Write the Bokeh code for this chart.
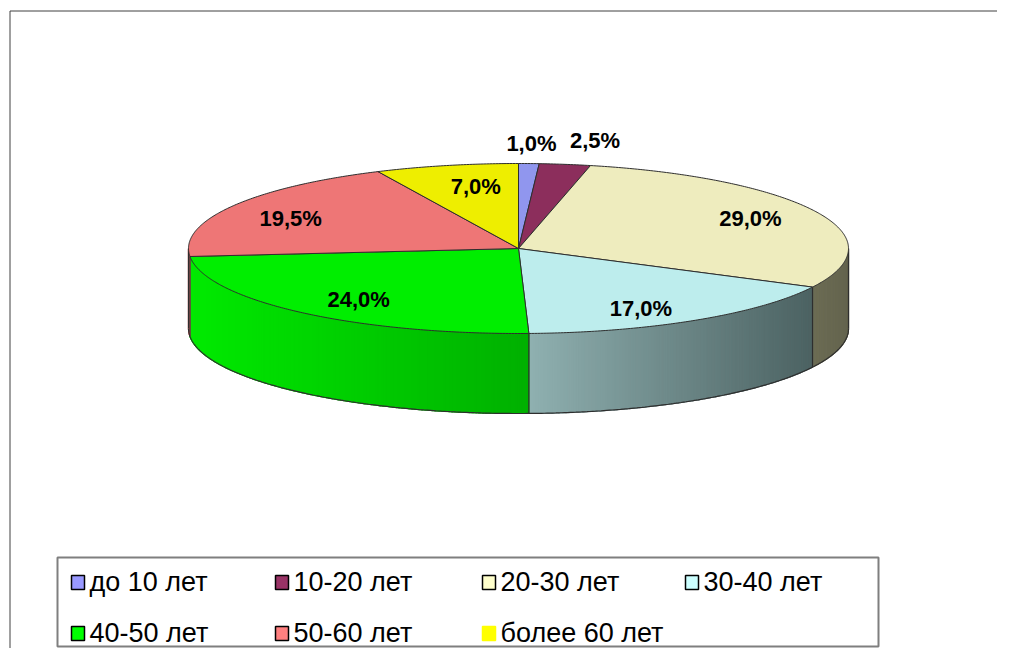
import numpy as np
from bokeh.plotting import figure
from bokeh.models import Range1d
from bokeh.core.properties import value
from bokeh.embed import file_html
from bokeh.resources import INLINE

# ---------------- data ----------------
categories = ["до 10 лет", "10-20 лет", "20-30 лет", "30-40 лет",
              "40-50 лет", "50-60 лет", "более 60 лет"]
shares = [1.0, 2.5, 29.0, 17.0, 24.0, 19.5, 7.0]
labels = [f"{v:.1f}%".replace(".", ",") for v in shares]

# ---------------- styles ----------------
legend_colors = ["#9999FF", "#993366", "#FFFFCC", "#CCFFFF", "#00FF00", "#FF8080", "#FFFF00"]
top_colors = ["#9096ee", "#8c2e5c", "#eeecbe", "#bdeded", "#00ee00", "#ee7676", "#eeee00"]
side_left = [(130, 135, 210), (120, 40, 80), (108, 108, 84), (143, 176, 176),
             (0, 234, 0), (232, 112, 112), (215, 215, 0)]
side_right = [(120, 125, 200), (110, 35, 75), (100, 100, 78), (76, 98, 98),
              (0, 176, 0), (225, 105, 105), (205, 205, 0)]
label_radius = [1.25, 1.28, 0.76, 0.76, 0.76, 0.76, 0.76]
label_dx = [0, 17, 5, -12, 6, -10, 12]
label_dy = [1, 0, -2, 5, 3, 2, 1]

cx, cy, rx, ry, depth = 518.0, 248.0, 330.0, 85.0, 80.0
edge = "#2e2e2e"
W, H = 997, 648


def X(t):
    return cx + rx * np.sin(np.radians(t))


def Y(t):
    return cy - ry * np.cos(np.radians(t))


p = figure(width=W, height=H, x_range=Range1d(0, W), y_range=Range1d(H, 0),
           output_backend="svg", toolbar_location=None, min_border=0)
p.axis.visible = False
p.grid.visible = False
p.outline_line_color = None
p.background_fill_color = "white"
p.border_fill_color = "white"

# chart area border
p.quad(left=[9.5], right=[1100], top=[10.5], bottom=[1000], fill_color=None,
       line_color="#404040", line_width=1)

total = sum(shares)
bounds = np.concatenate([[0], np.cumsum(shares) / total * 360.0])

# ---------------- side walls (front half) ----------------
sxs, sys_, scol = [], [], []
for i in range(len(shares)):
    a, b = max(bounds[i], 90.0), min(bounds[i + 1], 270.0)
    if b <= a:
        continue
    n = max(2, int((b - a) / 0.6))
    ts = np.linspace(a, b, n + 1)
    xmin, xmax = min(X(a), X(b)), max(X(a), X(b))
    if a < 180 < b:
        xmin = min(xmin, X(180))
    for t0, t1 in zip(ts[:-1], ts[1:]):
        xm = 0.5 * (X(t0) + X(t1))
        f = 0.0 if xmax == xmin else (xm - xmin) / (xmax - xmin)
        c = tuple(int(round(side_left[i][k] + (side_right[i][k] - side_left[i][k]) * f)) for k in range(3))
        col = "#%02x%02x%02x" % c
        t1e = min(t1 + 0.4, b)
        sxs.append([X(t0), X(t1e), X(t1e), X(t0)])
        sys_.append([Y(t0), Y(t1e), Y(t1e) + depth, Y(t0) + depth])
        scol.append(col)
p.patches(sxs, sys_, fill_color=scol, line_color=scol, line_width=1.2)

# side outlines
ta = np.linspace(90, 270, 361)
p.line(X(ta), Y(ta) + depth, line_color=edge, line_width=1.2)
vx, vy = [], []
for t in [90.0, 270.0] + [bb for bb in bounds if 90 < bb < 270]:
    vx.append([X(t), X(t)])
    vy.append([Y(t), Y(t) + depth])
p.multi_line(vx, vy, line_color=edge, line_width=1.2)

# ---------------- top face ----------------
txs, tys = [], []
for i in range(len(shares)):
    a, b = bounds[i], bounds[i + 1]
    ts = np.linspace(a, b, max(2, int((b - a) / 0.5)) + 1)
    txs.append([cx] + list(X(ts)))
    tys.append([cy] + list(Y(ts)))
p.patches(txs, tys, fill_color=top_colors, line_color=edge, line_width=1)

# ---------------- labels ----------------
lx, ly = [], []
for i in range(len(shares)):
    m = 0.5 * (bounds[i] + bounds[i + 1])
    f = label_radius[i]
    lx.append(cx + rx * f * np.sin(np.radians(m)) + label_dx[i])
    ly.append(cy - ry * f * np.cos(np.radians(m)) + label_dy[i])
p.text(x=lx, y=ly, text=labels, text_align="center", text_baseline="middle",
       text_font=value("Liberation Sans"), text_font_style="bold",
       text_font_size="22px", text_color="black")

# ---------------- legend ----------------
p.quad(left=[57], right=[878], top=[557], bottom=[646], fill_color="white",
       line_color="#7f7f7f", line_width=2)
col_x = [71, 275, 482, 685]
row_y = [581, 632]
mk_l, mk_r, mk_t, mk_b, mk_c, mk_line, tx, ty = [], [], [], [], [], [], [], []
for i, name in enumerate(categories):
    r, c = divmod(i, 4)
    x0, yc = col_x[c], row_y[r]
    mk_l.append(x0)
    mk_r.append(x0 + 13)
    mk_t.append(yc - 6)
    mk_b.append(yc + 8)
    mk_c.append(legend_colors[i])
    mk_line.append("black" if i < 6 else legend_colors[i])
    tx.append(x0 + 18)
    ty.append(yc)
p.quad(left=mk_l, right=mk_r, top=mk_t, bottom=mk_b, fill_color=mk_c,
       line_color=mk_line, line_width=1.5)
p.text(x=tx, y=ty, text=categories, text_align="left", text_baseline="middle",
       text_font=value("Liberation Sans"), text_font_size="27px", text_color="black")

open("out.html", "w").write(file_html(p, INLINE))
